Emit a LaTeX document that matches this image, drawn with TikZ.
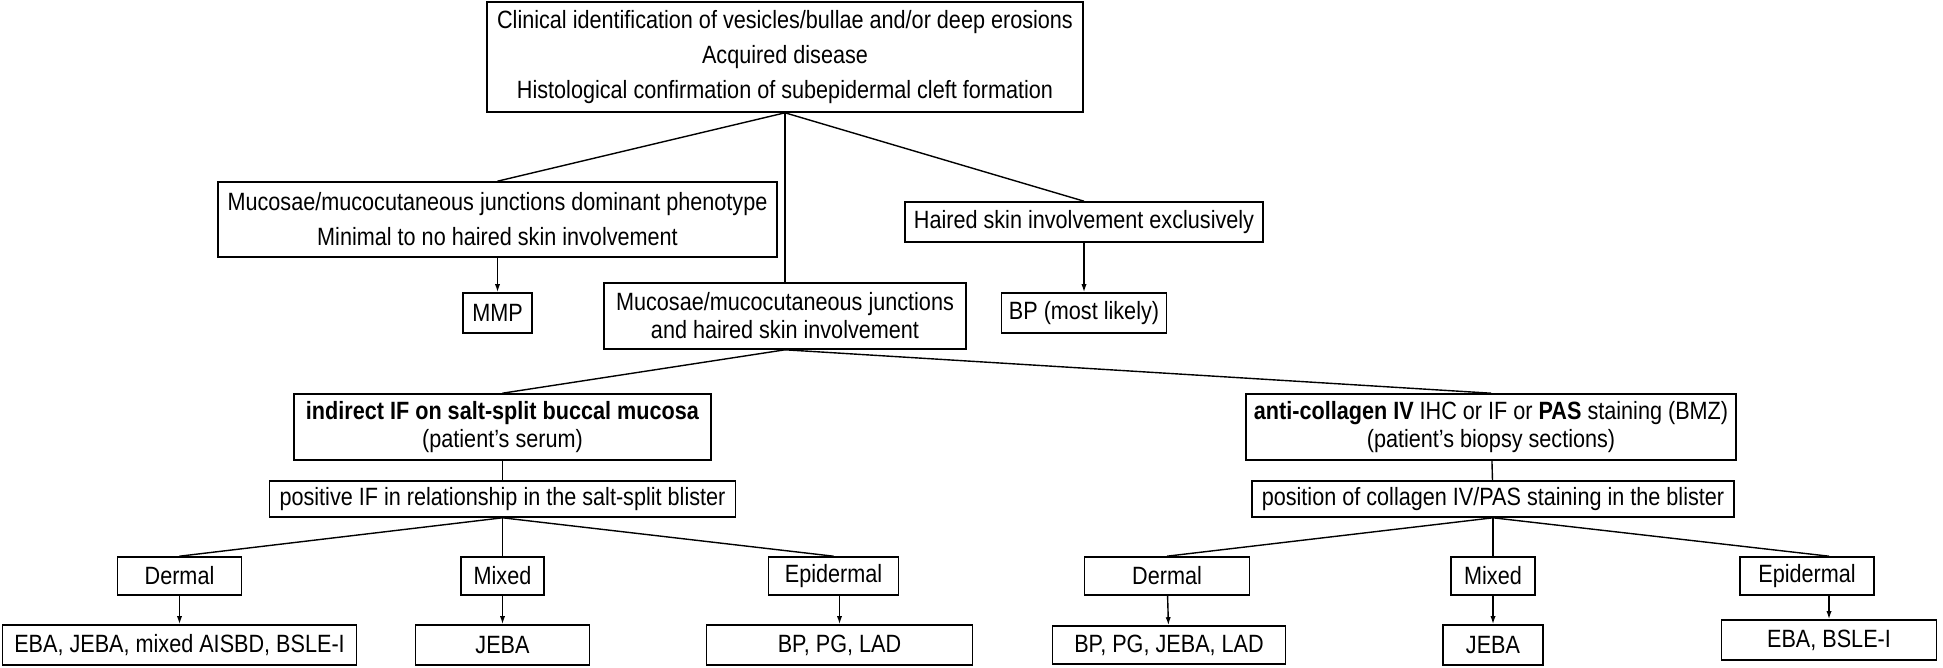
\documentclass[tikz,border=0pt]{standalone}
\usepackage{fontspec}
\setmainfont{Liberation Sans}[FakeStretch=0.865]
\usetikzlibrary{positioning,arrows.meta}
\tikzstyle{block} = [draw, fill=white, rectangle, inner sep=0pt, align=center, line width=0.8pt]
\tikzstyle{loose} = [font=\fontsize{12.5pt}{17.5pt}\selectfont]

\begin{document}
\begin{tikzpicture}[font=\fontsize{12.5pt}{14pt}\selectfont, line width=0.7pt, >={Latex[length=4pt,width=2.6pt]}]
        \useasboundingbox (0,0) rectangle (971.5pt,-334pt);

        \node [block, loose, minimum width=298pt, minimum height=55pt] (top) at (392.5pt,-28.5pt) {Clinical identification of vesicles/bullae and/or deep erosions\\Acquired disease\\Histological confirmation of subepidermal cleft formation};

        \node [block, loose, minimum width=279.5pt, minimum height=37.5pt, below of=top, node distance=81.25pt, xshift=-143.75pt] (mucdom) {Mucosae/mucocutaneous junctions dominant phenotype\\Minimal to no haired skin involvement};
        \node [block, minimum width=181pt, minimum height=33pt, below of=top, node distance=129.5pt] (mucskin) {Mucosae/mucocutaneous junctions\\and haired skin involvement};
        \node [block, minimum width=179pt, minimum height=20pt, below of=top, node distance=82.5pt, xshift=149.5pt] (haired) {Haired skin involvement exclusively};

        \node [block, minimum width=34.5pt, minimum height=20pt, below of=mucdom, node distance=46.75pt] (mmp) {MMP};
        \node [block, minimum width=82.5pt, minimum height=20pt, below of=haired, node distance=45.5pt] (bpml) {BP (most likely)};

        \node [block, minimum width=208.5pt, minimum height=33pt, below of=mucskin, node distance=55.5pt, xshift=-141.25pt] (indirect) {\textbf{indirect IF on salt-split buccal mucosa}\\(patient’s serum)};
        \node [block, minimum width=245pt, minimum height=33pt, below of=mucskin, node distance=55.5pt, xshift=353pt] (anticol) {\textbf{anti-collagen IV} IHC or IF or \textbf{PAS} staining (BMZ)\\(patient’s biopsy sections)};

        \node [block, minimum width=233pt, minimum height=18pt, below of=indirect, node distance=36pt] (posif) {positive IF in relationship in the salt-split blister};
        \node [block, minimum width=241pt, minimum height=18pt, below of=anticol, node distance=36pt, xshift=1pt] (posbl) {position of collagen IV/PAS staining in the blister};

        \node [block, minimum width=62pt, minimum height=19pt, below of=posif, node distance=38.5pt, xshift=-161.5pt] (dermL) {Dermal};
        \node [block, minimum width=41.5pt, minimum height=19pt, below of=posif, node distance=38.5pt] (mixL) {Mixed};
        \node [block, minimum width=65pt, minimum height=19pt, below of=posif, node distance=38.5pt, xshift=165.5pt] (epiL) {Epidermal};

        \node [block, minimum width=82.5pt, minimum height=19pt, below of=posbl, node distance=38.5pt, xshift=-163pt] (dermR) {Dermal};
        \node [block, minimum width=42pt, minimum height=19pt, below of=posbl, node distance=38.5pt] (mixR) {Mixed};
        \node [block, minimum width=67pt, minimum height=19pt, below of=posbl, node distance=38.5pt, xshift=157pt] (epiR) {Epidermal};

        \node [block, minimum width=177pt, minimum height=20pt, below of=dermL, node distance=34.5pt] (resDL) {EBA, JEBA, mixed AISBD, BSLE-I};
        \node [block, minimum width=87pt, minimum height=20pt, below of=mixL, node distance=34.5pt] (resML) {JEBA};
        \node [block, minimum width=133pt, minimum height=20pt, below of=epiL, node distance=34.5pt, xshift=3pt] (resEL) {BP, PG, LAD};

        \node [block, minimum width=116.5pt, minimum height=19pt, below of=dermR, node distance=34.5pt, xshift=1pt] (resDR) {BP, PG, JEBA, LAD};
        \node [block, minimum width=50pt, minimum height=20pt, below of=mixR, node distance=34.5pt] (resMR) {JEBA};
        \node [block, minimum width=107.5pt, minimum height=20pt, below of=epiR, node distance=32pt, xshift=11pt] (resER) {EBA, BSLE-I};

        \draw[-] (top.south) -- (mucdom.north);
        \draw[-] (top.south) -- (mucskin.north);
        \draw[-] (top.south) -- (haired.north);
        \draw[->] (mucdom) -- (mmp);
        \draw[->] (haired) -- (bpml);

        \draw[-] (mucskin.south) -- (indirect.north);
        \draw[-] (mucskin.south) -- (anticol.north);
        \draw[-] (indirect) -- (posif);
        \draw[-] (anticol) -- (posbl);

        \draw[-] (posif.south) -- (dermL.north);
        \draw[-] (posif.south) -- (mixL.north);
        \draw[-] (posif.south) -- (epiL.north);
        \draw[-] (posbl.south) -- (dermR.north);
        \draw[-] (posbl.south) -- (mixR.north);
        \draw[-] (posbl.south) -- (epiR.north -| resER);

        \draw[->] (dermL) -- (resDL);
        \draw[->] (mixL) -- (resML);
        \draw[->] (epiL.south -| resEL) -- (resEL.north);
        \draw[->] (dermR) -- (resDR);
        \draw[->] (mixR) -- (resMR);
        \draw[->] (epiR.south -| resER) -- (resER.north);
    \end{tikzpicture}
\end{document}
